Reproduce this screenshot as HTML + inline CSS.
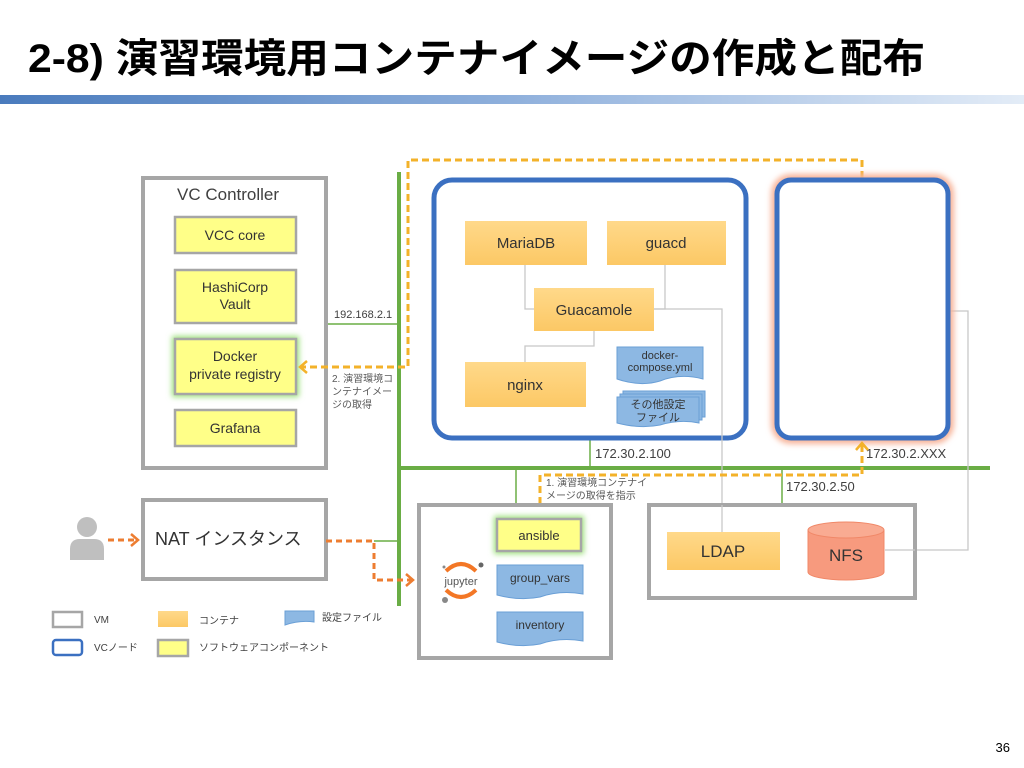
<!DOCTYPE html>
<html><head><meta charset="utf-8"><style>
html,body{margin:0;padding:0;background:#fff;}
svg{display:block;font-family:"Liberation Sans","Noto Sans CJK JP",sans-serif;}
</style></head><body>
<svg width="1024" height="768" viewBox="0 0 1024 768" xmlns="http://www.w3.org/2000/svg">
<defs>
<linearGradient id="bar" x1="0" x2="1"><stop offset="0" stop-color="#4a7bbd"/><stop offset="0.5" stop-color="#8fb0dc"/><stop offset="1" stop-color="#e3ecf7"/></linearGradient>
<linearGradient id="og" x1="0" y1="0" x2="0" y2="1"><stop offset="0" stop-color="#ffd98a"/><stop offset="1" stop-color="#fcc865"/></linearGradient>
<filter id="gg" x="-30%" y="-30%" width="160%" height="160%"><feGaussianBlur stdDeviation="3"/></filter>
<marker id="ay" markerUnits="userSpaceOnUse" markerWidth="16" markerHeight="16" refX="10" refY="8" orient="auto"><path d="M3,2 L10,8 L3,14" fill="none" stroke="#f3b22a" stroke-width="2.5"/></marker>
<marker id="ao" markerUnits="userSpaceOnUse" markerWidth="16" markerHeight="16" refX="10" refY="8" orient="auto"><path d="M3,2 L10,8 L3,14" fill="none" stroke="#ed7d31" stroke-width="2.5"/></marker>
</defs>
<text x="28" y="72" font-size="40" font-weight="bold" fill="#000" textLength="897" lengthAdjust="spacingAndGlyphs">2-8) 演習環境用コンテナイメージの作成と配布</text>
<rect x="0" y="95" width="1024" height="9" fill="url(#bar)"/>

<line x1="399" y1="172" x2="399" y2="606" stroke="#6aad45" stroke-width="4"/>
<line x1="399" y1="468" x2="990" y2="468" stroke="#6aad45" stroke-width="4"/>
<line x1="326" y1="324" x2="399" y2="324" stroke="#6aad45" stroke-width="1.5"/>
<line x1="590" y1="438" x2="590" y2="468" stroke="#6aad45" stroke-width="1.5"/>
<line x1="516" y1="468" x2="516" y2="505" stroke="#6aad45" stroke-width="1.5"/>
<line x1="782" y1="468" x2="782" y2="505" stroke="#6aad45" stroke-width="1.5"/>
<line x1="374" y1="541" x2="399" y2="541" stroke="#6aad45" stroke-width="1.5"/>
<text x="334" y="318" font-size="11" fill="#404040">192.168.2.1</text>
<text x="595" y="458" font-size="13" fill="#404040">172.30.2.100</text>
<text x="866" y="458" font-size="13" fill="#404040">172.30.2.XXX</text>
<text x="786" y="491" font-size="13" fill="#404040">172.30.2.50</text>

<rect x="143" y="178" width="183" height="290" fill="#fff" stroke="#a6a6a6" stroke-width="4"/>
<text x="177" y="200" font-size="17" fill="#404040">VC Controller</text>
<g font-size="14" fill="#333" text-anchor="middle">
<rect x="175" y="217" width="121" height="36" fill="#ffff88" stroke="#a6a6a6" stroke-width="2.5"/>
<text x="235" y="240">VCC core</text>
<rect x="175" y="270" width="121" height="53" fill="#ffff88" stroke="#a6a6a6" stroke-width="2.5"/>
<text x="235" y="292">HashiCorp</text><text x="235" y="309">Vault</text>
<rect x="172" y="336" width="127" height="61" fill="#9be07a" filter="url(#gg)"/>
<rect x="175" y="339" width="121" height="55" fill="#ffff88" stroke="#a6a6a6" stroke-width="2.5"/>
<text x="235" y="361">Docker</text><text x="235" y="379">private registry</text>
<rect x="175" y="410" width="121" height="36" fill="#ffff88" stroke="#a6a6a6" stroke-width="2.5"/>
<text x="235" y="433">Grafana</text>
</g>

<path d="M862,178 L862,160 L408,160 L408,367 L300,367" fill="none" stroke="#f3b22a" stroke-width="3" stroke-dasharray="7,4" marker-end="url(#ay)"/>
<g font-size="10" fill="#595959"><text x="332" y="382">2. 演習環境コ</text><text x="332" y="395">ンテナイメー</text><text x="332" y="408">ジの取得</text></g>

<rect x="434" y="180" width="312" height="258" rx="18" fill="#fff" stroke="#3b70c1" stroke-width="5"/>
<g fill="none" stroke="#c8c8c8" stroke-width="1.3">
<path d="M525,265 V309 H534"/><path d="M665,265 V309 H654"/><path d="M525,362 V346 H594 V331"/>
<path d="M654,309 H722 V532"/><path d="M948,311 H968 V550 H885"/>
</g>
<g font-size="15" fill="#333" text-anchor="middle">
<rect x="465" y="221" width="122" height="44" fill="url(#og)"/><text x="526" y="248">MariaDB</text>
<rect x="607" y="221" width="119" height="44" fill="url(#og)"/><text x="666" y="248">guacd</text>
<rect x="534" y="288" width="120" height="43" fill="url(#og)"/><text x="594" y="315">Guacamole</text>
<rect x="465" y="362" width="121" height="45" fill="url(#og)"/><text x="525" y="390">nginx</text>
</g>
<g font-size="11" fill="#333" text-anchor="middle">
<path d="M617,347 H703 V379 Q680,373 660,381 Q640,387 617,379 Z" fill="#8db8e3" stroke="#6a9fd6"/>
<text x="660" y="359">docker-</text><text x="660" y="371">compose.yml</text>
<path d="M623,391 H705 V417 H623 Z" fill="#8db8e3" stroke="#6a9fd6"/>
<path d="M620,394 H702 V420 H620 Z" fill="#8db8e3" stroke="#6a9fd6"/>
<path d="M617,397 H699 V423 Q680,419 660,425 Q640,429 617,423 Z" fill="#8db8e3" stroke="#6a9fd6"/>
<text x="658" y="408">その他設定</text><text x="658" y="421">ファイル</text>
</g>

<rect x="777" y="180" width="171" height="258" rx="14" fill="none" stroke="#f7b49a" stroke-width="12" filter="url(#gg)"/>
<rect x="777" y="180" width="171" height="258" rx="14" fill="#fff" stroke="#3b70c1" stroke-width="5"/>

<path d="M540,515 V475 H862 V443" fill="none" stroke="#f3b22a" stroke-width="3" stroke-dasharray="7,4" marker-end="url(#ay)"/>
<g font-size="10" fill="#595959"><text x="546" y="486">1. 演習環境コンテナイ</text><text x="546" y="499">メージの取得を指示</text></g>

<rect x="649" y="505" width="266" height="93" fill="#fff" stroke="#a6a6a6" stroke-width="4"/>
<line x1="722" y1="505" x2="722" y2="532" stroke="#c8c8c8" stroke-width="1.3"/>
<line x1="885" y1="550" x2="915" y2="550" stroke="#c8c8c8" stroke-width="1.3"/>
<rect x="667" y="532" width="113" height="38" fill="url(#og)"/>
<text x="723" y="557" font-size="17" fill="#333" text-anchor="middle">LDAP</text>
<path d="M808,530 V572 A38,8 0 0 0 884,572 V530" fill="#f79a7e" stroke="#f08868"/>
<ellipse cx="846" cy="530" rx="38" ry="8" fill="#f9ab92" stroke="#f08868"/>
<text x="846" y="561" font-size="17" fill="#333" text-anchor="middle">NFS</text>

<rect x="143" y="500" width="183" height="79" fill="#fff" stroke="#a6a6a6" stroke-width="4"/>
<text x="155" y="545" font-size="18" fill="#333">NAT インスタンス</text>
<circle cx="87" cy="527" r="10" fill="#bfbfbf"/>
<path d="M70,560 V549 Q70,539 80,539 H94 Q104,539 104,549 V560 Z" fill="#bfbfbf"/>
<path d="M108,540 H138" stroke="#ed7d31" stroke-width="3" stroke-dasharray="6,4" marker-end="url(#ao)"/>
<path d="M326,541 H374 V580 H413" fill="none" stroke="#ed7d31" stroke-width="3" stroke-dasharray="6,4" marker-end="url(#ao)"/>

<rect x="419" y="505" width="192" height="153" fill="#fff" stroke="#a6a6a6" stroke-width="4"/>
<path d="M446,571 Q461,557 476,571" fill="none" stroke="#f37726" stroke-width="4"/>
<path d="M446,590 Q461,604 476,590" fill="none" stroke="#f37726" stroke-width="4"/>
<circle cx="481" cy="565" r="2.5" fill="#666"/><circle cx="445" cy="600" r="3" fill="#888"/><circle cx="444" cy="567" r="1.5" fill="#888"/>
<text x="461" y="585" font-size="11" fill="#555" text-anchor="middle">jupyter</text>
<rect x="494" y="516" width="90" height="38" fill="#9be07a" filter="url(#gg)"/>
<rect x="497" y="519" width="84" height="32" fill="#ffff88" stroke="#a6a6a6" stroke-width="2.5"/>
<text x="539" y="540" font-size="13" fill="#333" text-anchor="middle">ansible</text>
<path d="M497,565 H583 V594 Q560,590 540,597 Q520,601 497,595 Z" fill="#8db8e3" stroke="#6a9fd6"/>
<text x="540" y="582" font-size="12" fill="#333" text-anchor="middle">group_vars</text>
<path d="M497,612 H583 V641 Q560,637 540,644 Q520,648 497,642 Z" fill="#8db8e3" stroke="#6a9fd6"/>
<text x="540" y="629" font-size="12" fill="#333" text-anchor="middle">inventory</text>

<g font-size="10" fill="#404040">
<rect x="53" y="612" width="29" height="15" fill="#fff" stroke="#a6a6a6" stroke-width="2.5"/><text x="94" y="623">VM</text>
<rect x="53" y="640" width="29" height="15" rx="3" fill="#fff" stroke="#3b70c1" stroke-width="2.5"/><text x="94" y="651">VCノード</text>
<rect x="158" y="611" width="30" height="16" fill="url(#og)"/><text x="199" y="624">コンテナ</text>
<rect x="158" y="640" width="30" height="16" fill="#ffff88" stroke="#a6a6a6" stroke-width="2.5"/><text x="199" y="651">ソフトウェアコンポーネント</text>
<path d="M285,611 H314 V622 Q300,620 285,625 Z" fill="#8db8e3" stroke="#6a9fd6"/><text x="322" y="621">設定ファイル</text>
</g>
<text x="1010" y="752" font-size="13" fill="#000" text-anchor="end">36</text>
</svg>
</body></html>
